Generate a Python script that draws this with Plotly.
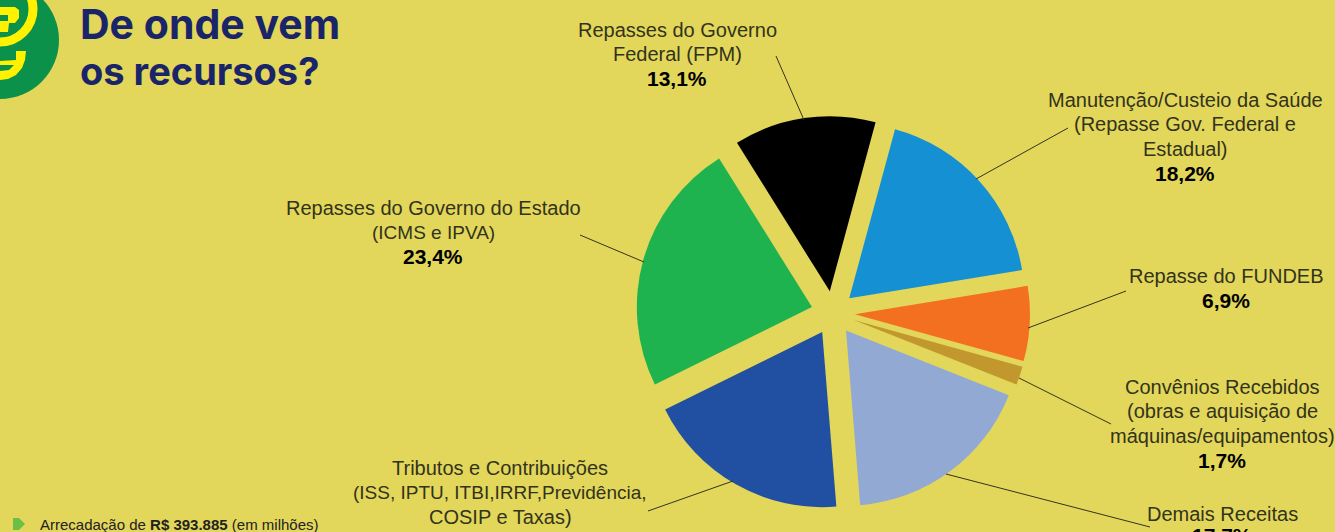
import plotly.graph_objects as go

W, H = 1335, 532
BG = "#e2d75a"

categories = ["Repasses do Governo Federal (FPM)", "Manutenção/Custeio da Saúde", "Repasse do FUNDEB",
              "Convênios Recebidos", "Demais Receitas", "Tributos e Contribuições", "Repasses do Governo do Estado"]
values = [13.1, 18.2, 6.9, 1.7, 17.7, 19.0, 23.4]
colors = ["#000000", "#1590d3", "#f37021", "#c2982e", "#92a9d3", "#2150a3", "#1fb34f"]
label_lines = [["Repasses do Governo", "Federal (FPM)", "<b>13,1%</b>"],
               ["Manutenção/Custeio da Saúde", "(Repasse Gov. Federal e", "Estadual)", "<b>18,2%</b>"],
               ["Repasse do FUNDEB", "<b>6,9%</b>"],
               ["Convênios Recebidos", "(obras e aquisição de", "máquinas/equipamentos)", "<b>1,7%</b>"],
               ["Demais Receitas", "<b>17,7%</b>"],
               ["Tributos e Contribuições", "(ISS, IPTU, ITBI,IRRF,Previdência,", "COSIP e Taxas)"],
               ["Repasses do Governo do Estado", "(ICMS e IPVA)", "<b>23,4%</b>"]]
label_x = [677, 1185, 1226, 1222, 1222, 500, 433]
label_y0 = [30, 100, 276, 387, 514, 468, 208]
small_lines = ["(ISS, IPTU, ITBI,IRRF,Previdência,", "(ICMS e IPVA)"]
leaders = [((776, 56), (804, 120)), ((1068, 128), (976, 179)), ((1126, 291), (1028, 328)),
           ((1111, 424), (1019, 378)), ((1150, 527), (946, 474)), ((648, 511), (733, 481)),
           ((580, 235), (644, 262))]

def px(x): return x / W
def py(y): return 1 - y / H

cx, cy, ext = 833, 313, 197
fig = go.Figure(go.Pie(
    labels=categories, values=values, sort=False, direction="clockwise", rotation=-32,
    pull=0.125, textinfo="none", hoverinfo="label+percent", showlegend=False,
    marker=dict(colors=colors, line=dict(width=0)),
    domain=dict(x=[px(cx - ext), px(cx + ext)], y=[py(cy + ext), py(cy - ext)]),
))

shapes = []
for (a, b) in leaders:
    shapes.append(dict(type="line", xref="paper", yref="paper", x0=px(a[0]), y0=py(a[1]),
                       x1=px(b[0]), y1=py(b[1]), line=dict(color="#33331f", width=1)))
def circ(x, y, r, **kw):
    return dict(type="circle", xref="paper", yref="paper", x0=px(x - r), x1=px(x + r),
                y0=py(y + r), y1=py(y - r), **kw)
def poly(pts, color):
    d = "M " + " L ".join(f"{px(x)} {py(y)}" for x, y in pts) + " Z"
    return dict(type="path", xref="paper", yref="paper", path=d, fillcolor=color, line=dict(width=0))
YEL = "#fff200"
shapes.append(circ(0, 40, 59, fillcolor="#0b9149", line=dict(width=0)))
shapes.append(circ(0, 9, 33, fillcolor="rgba(0,0,0,0)", line=dict(color=YEL, width=9)))
shapes.append(poly([(0, 7), (15, 7), (19, 10), (19, 18), (15, 23), (9, 23), (8, 32), (0, 32)], YEL))
shapes.append(poly([(0, 15), (8, 15), (8, 21), (0, 21)], "#0b9149"))
shapes.append(poly([(16, 51), (26, 51), (25, 60), (22, 68), (16, 75), (8, 79), (0, 80), (0, 71), (9, 70), (14, 65), (0, 65), (0, 61), (16, 60)], YEL))
shapes.append(poly([(13, 518), (19, 518), (25, 524), (19, 530), (13, 530)], "#6cbe45"))

ann = []
TXT = "#33331c"
for lines, x, y0 in zip(label_lines, label_x, label_y0):
    for i, line in enumerate(lines):
        bold = line.startswith("<b>")
        size = 21 if bold else (19 if line in small_lines else 20)
        clipped = line == "<b>17,7%</b>"
        ann.append(dict(text=line, x=px(x), y=py(522) if clipped else py(y0 + i * 24.4), xref="paper", yref="paper",
                        xanchor="center", yanchor="top" if clipped else "middle", showarrow=False,
                        font=dict(family="Liberation Sans", size=size, color="#000" if bold else TXT)))
for line, y, s in zip(["<b>De onde vem</b>", "<b>os recursos?</b>"], [24, 71], [41, 38]):
    ann.append(dict(text=line, x=px(78), y=py(y), xref="paper", yref="paper", xanchor="left", yanchor="middle",
                    showarrow=False, font=dict(family="Inter", size=s, color="#1a2569")))
ann.append(dict(text="Arrecadação de <b>R$ 393.885</b> (em milhões)", x=px(38), y=py(524), xref="paper", yref="paper",
                xanchor="left", yanchor="middle", showarrow=False,
                font=dict(family="Liberation Sans", size=15, color="#222")))

fig.update_layout(width=W, height=H, autosize=False, margin=dict(l=0, r=0, t=0, b=0),
                  paper_bgcolor=BG, plot_bgcolor=BG, shapes=shapes, annotations=ann)
fig.write_html("out.html", config=dict(displayModeBar=False),
               post_script="document.body.style.margin='0';document.body.style.background='%s';" % BG)
